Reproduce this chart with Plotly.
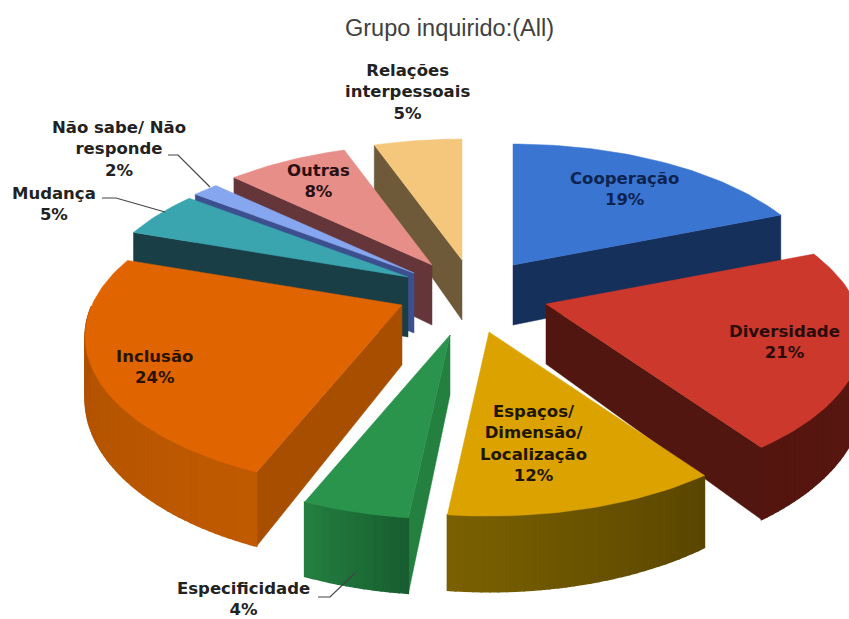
import numpy as np
import plotly.graph_objects as go

# ---- data ----
categories = ["Cooperação", "Diversidade", "Espaços/ Dimensão/ Localização", "Especificidade",
              "Inclusão", "Mudança", "Não sabe/ Não responde", "Outras", "Relações interpessoais"]
values = [19.0, 21.2, 11.5, 4.49, 24.1, 5.1, 1.6, 7.52, 5.49]
title_text = "Grupo inquirido:(All)"

# ---- styling ----
top_colors = ["#3A75D2", "#CC382C", "#DBA200", "#2B944C", "#E06400", "#3AA5AE", "#86A6F0", "#E88E88", "#F5C77C"]
wall_a = ["#1A3564", "#5C1A12", "#7A6000", "#185E30", "#C05A00", "#1C4048", "#3C5090", "#64363A", "#6E5A38"]
wall_b = ["#16305C", "#55150F", "#5A4600", "#237E40", "#A84E00", "#1A3E46", "#3C5090", "#64363A", "#6E5A38"]
radial = ["#16305C", "#521611", "#5A4600", "#23803F", "#A84E00", "#1A3E46", "#3C5090", "#64363A", "#6E5A38"]
apex = [(513, 265), (546, 304), (489, 332), (450, 335), (402, 305), (408, 277), (414, 273), (432, 265), (462, 260)]
draw_order = [8, 7, 6, 5, 0, 4, 1, 3, 2]
RX, RY, P, DEPTH = 310.0, 146.0, 0.207, 60.0


def project(theta):
    """Clockwise angle from the top -> offset on the tilted disc, with perspective."""
    u, v = np.sin(theta), np.cos(theta)
    w = 1.0 / (1.0 + P * v)
    return RX * u * w, -RY * v * w, w


def mix(c1, c2, t):
    a = [int(c1[i:i + 2], 16) for i in (1, 3, 5)]
    b = [int(c2[i:i + 2], 16) for i in (1, 3, 5)]
    return "rgb(%d,%d,%d)" % tuple(round(x + (y - x) * t) for x, y in zip(a, b))


fig = go.Figure()


def poly(xs, ys, color, lw=1.0):
    fig.add_trace(go.Scatter(x=list(xs) + [xs[0]], y=list(ys) + [ys[0]], mode="lines", fill="toself",
                             fillcolor=color, line=dict(color=color, width=lw),
                             hoverinfo="skip", showlegend=False))


edges = np.concatenate([[0], np.cumsum(values)]) / sum(values) * 2 * np.pi
for i in draw_order:
    ax, ay = apex[i]
    th = np.linspace(edges[i], edges[i + 1], max(8, int(values[i] * 3)))
    dx, dy, w = project(th)
    X, Y = ax + dx, ay + dy
    YB = Y + DEPTH * w
    m = len(th) // 2
    # radial walls: only those that hang below the top face
    for e in (0, -1):
        side_mid = dx[e] * dy[m] - dy[e] * dx[m]
        side_down = dx[e]
        if side_mid * side_down < 0:
            poly([ax, X[e], X[e], ax], [ay, Y[e], YB[e], ay + DEPTH], radial[i], 0.5)
    # outer wall strips on the part of the rim that faces the viewer
    for k in range(len(th) - 1):
        if np.cos((th[k] + th[k + 1]) / 2) > 0:
            continue
        t = k / max(1, len(th) - 2)
        if i == 2:
            t = 1 - t
        poly([X[k], X[k + 1], X[k + 1], X[k]], [Y[k], Y[k + 1], YB[k + 1], YB[k]],
             mix(wall_a[i], wall_b[i], t), 1.5)
    # top face
    poly([ax] + list(X), [ay] + list(Y), top_colors[i], 0.5)

# leader lines
leaders = [([168, 178, 210], [155, 155, 187]),
           ([102, 116, 165], [198, 198, 212]),
           ([318, 330, 355], [597, 597, 573])]
for lx, ly in leaders:
    fig.add_trace(go.Scatter(x=lx, y=ly, mode="lines", line=dict(color="#444444", width=1.2),
                             hoverinfo="skip", showlegend=False))

# labels
label_lines = ["Cooperação<br>19%", "Diversidade<br>21%", "Espaços/<br>Dimensão/<br>Localização<br>12%",
               "Especificidade<br>4%", "Inclusão<br>24%", "Mudança<br>5%", "Não sabe/ Não<br>responde<br>2%",
               "Outras<br>8%", "Relações<br>interpessoais<br>5%"]
label_pos = [(624, 189), (784, 342), (533, 443), (243, 599), (154, 367), (54, 204), (119, 149), (318, 181), (407, 92)]
label_col = ["#0E2350", "#2A0C08", "#1E1600", "#222222", "#2A1400", "#222222", "#222222", "#2A1010", "#222222"]
for txt, (x, y), c in zip(label_lines, label_pos, label_col):
    fig.add_annotation(x=x, y=y, text="<b>%s</b>" % txt, showarrow=False, align="center",
                       font=dict(family="DejaVu Sans", size=16.5, color=c), xanchor="center", yanchor="middle")
fig.add_annotation(x=449, y=28, text=title_text, showarrow=False,
                   font=dict(family="Liberation Sans", size=23.5, color="#404040"), xanchor="center", yanchor="middle")

fig.update_layout(width=849, height=619, margin=dict(l=0, r=0, t=0, b=0), paper_bgcolor="white",
                  plot_bgcolor="white", showlegend=False,
                  xaxis=dict(range=[0, 849], visible=False, fixedrange=True),
                  yaxis=dict(range=[619, 0], visible=False, fixedrange=True))
fig.write_html("out.html", config={"displayModeBar": False},
               post_script="document.body.style.margin='0';document.documentElement.style.overflow='hidden';")
